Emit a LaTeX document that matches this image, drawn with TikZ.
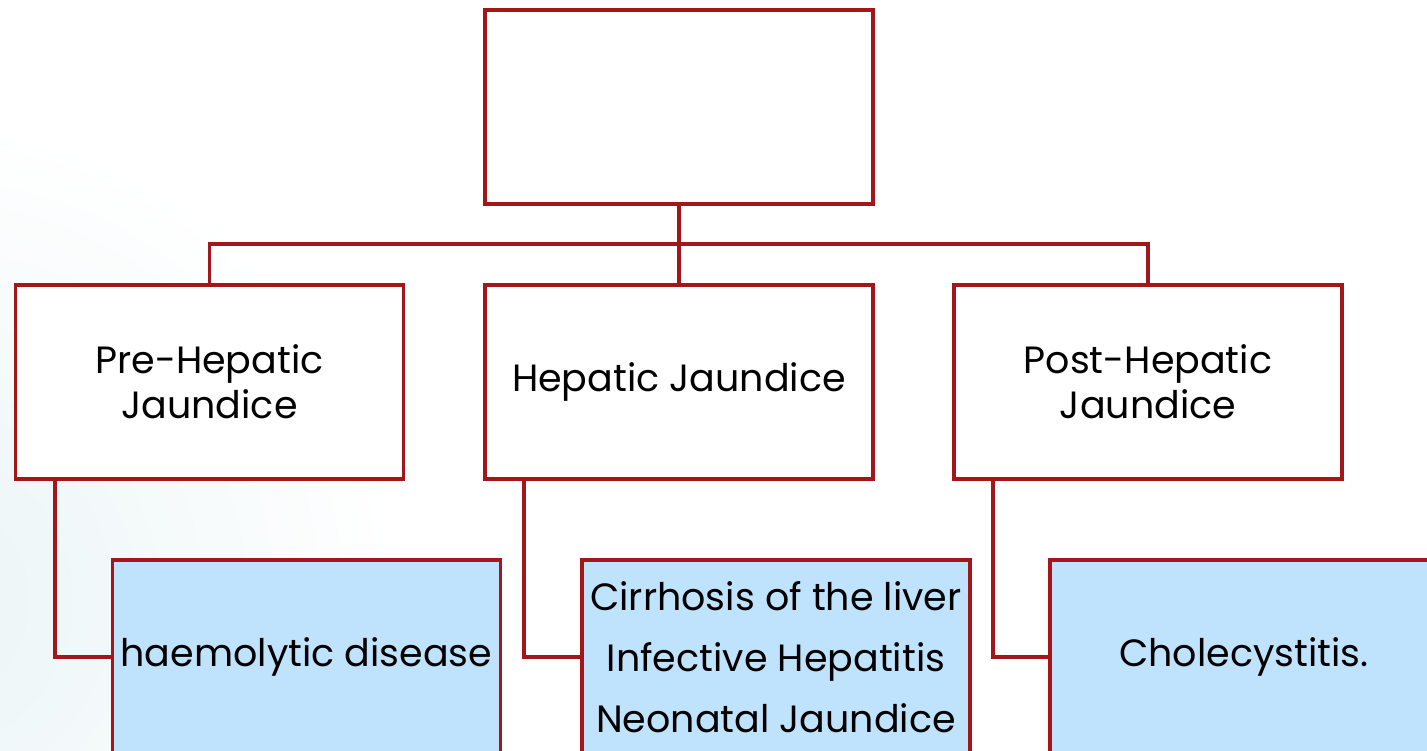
\documentclass[tikz,border=0pt]{standalone}
\usepackage{fontspec}
\setmainfont{Poppins}
\definecolor{bordred}{HTML}{A3161A}
\definecolor{boxblue}{HTML}{BFE3FC}
\definecolor{bgtint}{HTML}{EAF4F6}
\begin{document}
\begin{tikzpicture}[x=1pt,y=-1pt,
  box/.style={draw=bordred,line width=3.5pt,minimum width=388pt,minimum height=194pt,inner sep=0pt,align=center,text=black},
  upper/.style={box,fill=white,font=\fontsize{38}{45}\selectfont},
  lower/.style={box,fill=boxblue,font=\fontsize{38}{61}\selectfont},
  link/.style={draw=bordred,line width=3.5pt}]
\useasboundingbox (0,0) rectangle (1427,751);
\clip (0,0) rectangle (1427,751);
\fill[white] (0,0) rectangle (1427,751);
\shade[inner color=bgtint,outer color=white] (-80,600) circle (480);
\node[upper] (top) at (679,107) {};
\node[upper] (pre) at (209.5,382) {Pre-Hepatic\\Jaundice};
\node[upper] (hep) at (679,382) {Hepatic Jaundice};
\node[upper] (post) at (1148,382) {Post-Hepatic\\Jaundice};
\node[lower] (hd) at (306.5,657) {haemolytic disease};
\node[lower] (cir) at (776,657) {Cirrhosis of the liver\\Infective Hepatitis\\Neonatal Jaundice};
\node[lower] (cho) at (1244,657) {Cholecystitis.};
\coordinate (bus) at (679,244);
\draw[link] (top.south) -- (bus);
\draw[link] (pre.north) |- (bus) -| (post.north);
\draw[link] (bus) -- (hep.north);
\draw[link] (pre.south -| 55,0) |- (hd.west);
\draw[link] (hep.south -| 524,0) |- (cir.west);
\draw[link] (post.south -| 993,0) |- (cho.west);
\end{tikzpicture}
\end{document}
